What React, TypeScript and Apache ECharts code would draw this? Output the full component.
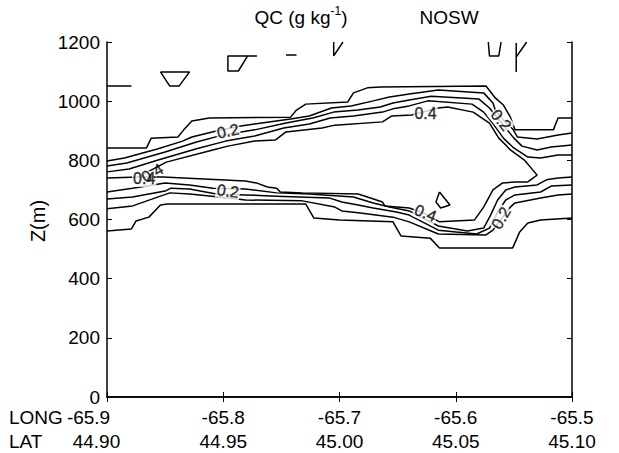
import React, { useEffect, useRef } from 'react';
import * as echarts from 'echarts';

// Axis tick labels
const lonTicks = ['-65.9', '-65.8', '-65.7', '-65.6', '-65.5'];
const latTicks = ['44.90', '44.95', '45.00', '45.05', '45.10'];

// Contour lines, [longitude, height (m)]
const upper1 = [[-65.900,842],[-65.866,842],[-65.862,875],[-65.839,879],[-65.834,903],[-65.827,933],[-65.812,943],[-65.742,946],[-65.737,970],[-65.729,990],[-65.693,997],[-65.688,1028],[-65.676,1045],[-65.665,1048],[-65.574,1051],[-65.566,1011],[-65.559,987],[-65.553,946],[-65.549,903],[-65.516,903],[-65.512,943],[-65.500,943]];
const upper2 = [[-65.900,798],[-65.885,808],[-65.856,839],[-65.835,865],[-65.827,879],[-65.806,899],[-65.785,916],[-65.773,923],[-65.742,940],[-65.726,950],[-65.707,977],[-65.690,984],[-65.671,1001],[-65.657,1014],[-65.640,1024],[-65.615,1038],[-65.576,1028],[-65.568,994],[-65.566,970],[-65.559,936],[-65.551,906],[-65.547,879],[-65.530,872],[-65.512,886],[-65.500,892]];
const upper3 = [[-65.900,781],[-65.883,791],[-65.850,828],[-65.823,862],[-65.800,886],[-65.773,903],[-65.746,926],[-65.723,943],[-65.705,963],[-65.684,970],[-65.665,980],[-65.654,994],[-65.640,1004],[-65.621,1017],[-65.580,1007],[-65.571,977],[-65.564,943],[-65.557,909],[-65.550,875],[-65.543,848],[-65.530,835],[-65.518,845],[-65.500,852]];
const upper4 = [[-65.900,761],[-65.881,771],[-65.856,801],[-65.823,839],[-65.798,865],[-65.773,882],[-65.748,909],[-65.726,923],[-65.708,943],[-65.688,950],[-65.663,963],[-65.654,974],[-65.640,984],[-65.624,1001],[-65.586,990],[-65.576,963],[-65.567,919],[-65.559,875],[-65.551,845],[-65.538,811],[-65.527,808],[-65.512,818],[-65.500,818]];
const innermost = [[-65.900,740],[-65.873,744],[-65.849,794],[-65.809,835],[-65.796,848],[-65.773,865],[-65.755,869],[-65.746,896],[-65.715,909],[-65.704,919],[-65.663,930],[-65.655,950],[-65.638,953],[-65.615,977],[-65.607,980],[-65.585,963],[-65.571,926],[-65.563,875],[-65.557,852],[-65.553,835],[-65.541,801],[-65.530,750],[-65.538,727],[-65.549,727],[-65.560,723],[-65.568,700],[-65.576,642],[-65.584,598],[-65.614,592],[-65.626,619],[-65.640,639],[-65.661,646],[-65.663,659],[-65.676,676],[-65.684,686],[-65.732,690],[-65.751,693],[-65.754,706],[-65.762,710],[-65.771,723],[-65.781,730],[-65.852,744],[-65.873,744]];
const lower4 = [[-65.900,693],[-65.878,706],[-65.850,723],[-65.829,717],[-65.809,706],[-65.781,703],[-65.754,690],[-65.726,686],[-65.688,676],[-65.671,656],[-65.657,642],[-65.640,629],[-65.615,578],[-65.590,561],[-65.576,571],[-65.570,615],[-65.564,666],[-65.557,700],[-65.549,710],[-65.530,717],[-65.522,734],[-65.512,740],[-65.500,744]];
const lower3 = [[-65.900,669],[-65.878,676],[-65.850,696],[-65.845,706],[-65.829,703],[-65.806,686],[-65.781,683],[-65.754,679],[-65.709,673],[-65.698,659],[-65.684,649],[-65.671,639],[-65.651,625],[-65.640,615],[-65.615,564],[-65.582,551],[-65.571,571],[-65.564,625],[-65.557,666],[-65.549,683],[-65.527,693],[-65.518,713],[-65.500,717]];
const lower2 = [[-65.900,636],[-65.878,646],[-65.846,690],[-65.829,686],[-65.795,673],[-65.781,666],[-65.732,663],[-65.704,642],[-65.698,629],[-65.682,622],[-65.654,608],[-65.640,592],[-65.615,551],[-65.574,548],[-65.568,564],[-65.553,642],[-65.549,656],[-65.527,673],[-65.512,683],[-65.500,686]];
const lower1 = [[-65.900,561],[-65.879,568],[-65.875,595],[-65.864,608],[-65.854,649],[-65.848,652],[-65.729,652],[-65.722,605],[-65.700,598],[-65.654,592],[-65.647,544],[-65.622,537],[-65.614,504],[-65.551,504],[-65.545,558],[-65.538,588],[-65.527,598],[-65.500,605]];

// Small contour fragments near the top and inside the cloud
const frag1 = [[-65.900,1051],[-65.879,1051]];
const frag2 = [[-65.854,1099],[-65.829,1099],[-65.838,1051],[-65.846,1051],[-65.854,1099]];
const frag3 = [[-65.771,1153],[-65.796,1153],[-65.796,1102],[-65.787,1102],[-65.779,1153]];
const frag4 = [[-65.746,1156],[-65.737,1156]];
const frag5 = [[-65.705,1200],[-65.705,1153],[-65.697,1200]];
const frag6 = [[-65.572,1200],[-65.571,1153],[-65.563,1153],[-65.561,1200]];
const frag7 = [[-65.548,1197],[-65.548,1099]];
const frag8 = [[-65.539,1200],[-65.548,1149]];
const frag9 = [[-65.614,693],[-65.605,649],[-65.613,639],[-65.617,659],[-65.614,693]];

// Contour labels
const labelText = ['0.2', '0.4', '0.2', '0.4', '0.4', '0.2', '0.4', '0.2'];
const labelPos = [[-65.796,899],[-65.626,957],[-65.561,936],[-65.868,737],[-65.861,757],[-65.796,696],[-65.626,622],[-65.561,605]];
const labelAngle = [12, 0, -50, 0, 30, -8, -22, 60];
const labelBg = [true, true, true, true, false, true, true, true];

const FONT = '"Liberation Sans", Arial, Helvetica, sans-serif';
const NBSP = '\u00a0';

export default function App() {
  const ref = useRef<HTMLDivElement>(null);
  useEffect(() => {
    if (!ref.current) return;
    const chart = echarts.init(ref.current, undefined, { renderer: 'svg' });
    const lines = [upper1, upper2, upper3, upper4, innermost, lower4, lower3, lower2, lower1,
      frag1, frag2, frag3, frag4, frag5, frag6, frag7, frag8, frag9];
    const axisCommon = {
      type: 'value' as const,
      axisLine: { show: true, lineStyle: { color: '#000', width: 1.5 } },
      axisTick: { show: true, inside: true, length: 5, lineStyle: { color: '#000', width: 1 } },
      splitLine: { show: false },
    };
    chart.setOption({
      animation: false,
      backgroundColor: '#fff',
      color: ['#000'],
      grid: { left: 107, right: 47, top: 42, bottom: 56 },
      xAxis: [
        {
          ...axisCommon, min: -65.9, max: -65.5, interval: 0.1, position: 'bottom',
          axisLabel: {
            color: '#000', fontSize: 19, lineHeight: 24, margin: 8, fontFamily: FONT,
            formatter: (v: number) => {
              const i = Math.round((v + 65.9) * 10);
              const lon = lonTicks[i] ?? '';
              const lat = latTicks[i] ?? '';
              // first column sits closer to the LONG / LAT row titles
              if (i === 0) return lon + NBSP.repeat(7) + '\n' + lat + NBSP.repeat(4);
              return lon + '\n' + lat;
            },
          },
        },
        { ...axisCommon, min: -65.9, max: -65.5, interval: 0.1, position: 'top', axisLabel: { show: false } },
      ],
      yAxis: [
        {
          ...axisCommon, min: 0, max: 1200, interval: 200, position: 'left',
          axisLabel: { color: '#000', fontSize: 19, margin: 7, fontFamily: FONT, formatter: (v: number) => String(v) },
        },
        { ...axisCommon, min: 0, max: 1200, interval: 200, position: 'right', axisLabel: { show: false } },
      ],
      series: [
        ...lines.map((d) => ({
          type: 'line', data: d, showSymbol: false, symbol: 'none', silent: true,
          lineStyle: { color: '#000', width: 1.5 }, xAxisIndex: 0, yAxisIndex: 0,
        })),
        {
          type: 'scatter', symbolSize: 0, silent: true, z: 5,
          itemStyle: { color: '#000' },
          data: labelPos.map((p, i) => ({
            value: p, name: labelText[i],
            label: {
              rotate: labelAngle[i], color: '#000',
              backgroundColor: labelBg[i] ? '#fff' : 'transparent',
            },
          })),
          label: {
            show: true, position: 'inside', formatter: '{b}', color: '#000',
            textBorderWidth: 0.4, textBorderColor: '#000',
            fontSize: 16, fontFamily: FONT, padding: [0, 1],
          },
        },
      ],
      graphic: [
        {
          type: 'text', x: 301, y: 17,
          style: {
            text: 'QC (g kg{sup|-1})', fill: '#000', font: `19px ${FONT}`,
            align: 'center', verticalAlign: 'middle', lineHeight: 24,
            rich: { sup: { fontSize: 12, fontFamily: FONT, verticalAlign: 'top', lineHeight: 14, fill: '#000' } },
          },
        },
        { type: 'text', x: 449, y: 17, style: { text: 'NOSW', fill: '#000', font: `19px ${FONT}`, align: 'center', verticalAlign: 'middle' } },
        { type: 'text', x: 9, y: 417, style: { text: 'LONG', fill: '#000', font: `19px ${FONT}`, align: 'left', verticalAlign: 'middle' } },
        { type: 'text', x: 9, y: 441, style: { text: 'LAT', fill: '#000', font: `19px ${FONT}`, align: 'left', verticalAlign: 'middle' } },
        { type: 'text', x: 38, y: 221, rotation: Math.PI / 2, style: { text: 'Z(m)', fill: '#000', font: `20px ${FONT}`, align: 'center', verticalAlign: 'middle' } },
      ],
    });
    return () => chart.dispose();
  }, []);
  return <div ref={ref} style={{ position: 'absolute', left: 0, top: 0, width: 619, height: 453 }} />;
}
